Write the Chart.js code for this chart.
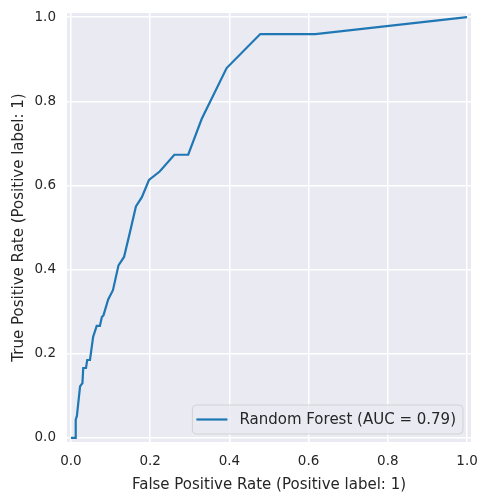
<!DOCTYPE html>
<html>
<head>
<meta charset="utf-8">
<script src="https://cdn.jsdelivr.net/npm/chart.js@4.4.1/dist/chart.umd.min.js"></script>
<style>
  body { margin: 0; background: #ffffff; }
  #roc { display: block; }
</style>
</head>
<body>
<canvas id="roc" width="480" height="495"></canvas>
<script>
// ROC curve values
const fpr = [0, 0.012, 0.012, 0.015, 0.023, 0.029, 0.031, 0.038, 0.041, 0.048,
  0.056, 0.065, 0.073, 0.078, 0.082, 0.094, 0.106, 0.120, 0.134, 0.149,
  0.164, 0.179, 0.197, 0.224, 0.261, 0.296, 0.330, 0.393, 0.478, 0.617, 1.0];
const tpr = [0, 0, 0.043, 0.052, 0.122, 0.130, 0.166, 0.166, 0.185, 0.185,
  0.240, 0.266, 0.266, 0.287, 0.291, 0.329, 0.351, 0.410, 0.430, 0.489,
  0.550, 0.572, 0.613, 0.633, 0.673, 0.673, 0.758, 0.879, 0.960, 0.960, 1.0];
const seriesLabel = 'Random Forest (AUC = 0.79)';
const tickValues = [0, 0.2, 0.4, 0.6, 0.8, 1.0];
const tickLabels = ['0.0', '0.2', '0.4', '0.6', '0.8', '1.0'];

const textColor = '#262626';
const fontFamily = '"DejaVu Sans", sans-serif';

const points = fpr.map((x, i) => ({ x: x, y: tpr[i] }));

// grey panel behind the plot (seaborn darkgrid)
const panelBg = {
  id: 'panelBg',
  beforeDraw(chart) {
    const { ctx, chartArea: a } = chart;
    ctx.save();
    ctx.fillStyle = '#EAEAF2';
    ctx.fillRect(a.left, a.top, a.right - a.left, a.bottom - a.top);
    ctx.restore();
  }
};

// legend box at the lower right, like matplotlib
const lowerRightLegend = {
  id: 'lowerRightLegend',
  afterDraw(chart) {
    const { ctx, chartArea: a } = chart;
    const ds = chart.data.datasets[0];
    ctx.save();
    ctx.font = '15px ' + fontFamily;
    const tw = ctx.measureText(ds.label).width;
    const h = 29;
    const w = 47 + tw + 7;
    const x = a.right - 8 - w;
    const y = a.bottom - 8 - h;
    ctx.beginPath();
    ctx.roundRect(x, y, w, h, 4);
    ctx.fillStyle = 'rgba(234,234,242,0.8)';
    ctx.fill();
    ctx.lineWidth = 1;
    ctx.strokeStyle = 'rgba(204,204,204,0.8)';
    ctx.stroke();
    ctx.beginPath();
    ctx.moveTo(x + 4, y + h / 2);
    ctx.lineTo(x + 35, y + h / 2);
    ctx.strokeStyle = ds.borderColor;
    ctx.lineWidth = ds.borderWidth;
    ctx.stroke();
    ctx.fillStyle = textColor;
    ctx.textBaseline = 'middle';
    ctx.fillText(ds.label, x + 47, y + h / 2 + 1);
    ctx.restore();
  }
};

const fixedTicks = scale => {
  scale.ticks = tickValues.map(v => ({ value: v }));
};

new Chart(document.getElementById('roc'), {
  type: 'scatter',
  data: {
    datasets: [{
      label: seriesLabel,
      data: points,
      showLine: true,
      borderColor: '#1f77b4',
      backgroundColor: '#1f77b4',
      borderWidth: 2.2,
      pointRadius: 0,
      tension: 0
    }]
  },
  options: {
    responsive: false,
    animation: false,
    layout: { padding: { top: 13, right: 9, left: 0, bottom: 0 } },
    plugins: {
      legend: { display: false },
      tooltip: { enabled: false }
    },
    scales: {
      x: {
        type: 'linear',
        min: -0.01,
        max: 1.01,
        afterBuildTicks: fixedTicks,
        afterFit(scale) {
          scale.height = 53;
          scale.paddingLeft = 0;
          scale.paddingRight = 0;
        },
        grid: { color: '#ffffff', lineWidth: 1.5, drawTicks: false },
        border: { display: false },
        ticks: {
          padding: 11,
          color: textColor,
          font: { family: fontFamily, size: 13.5 },
          callback: v => tickLabels[tickValues.indexOf(v)]
        },
        title: {
          display: true,
          text: 'False Positive Rate (Positive label: 1)',
          color: textColor,
          font: { family: fontFamily, size: 15 },
          padding: { top: 0, bottom: 1 }
        }
      },
      y: {
        type: 'linear',
        min: -0.01,
        max: 1.01,
        afterBuildTicks: fixedTicks,
        afterFit(scale) {
          scale.width = 67;
          scale.paddingTop = 0;
          scale.paddingBottom = 0;
        },
        grid: { color: '#ffffff', lineWidth: 1.5, drawTicks: false },
        border: { display: false },
        ticks: {
          padding: 11,
          color: textColor,
          font: { family: fontFamily, size: 13.5 },
          callback: v => tickLabels[tickValues.indexOf(v)]
        },
        title: {
          display: true,
          text: 'True Positive Rate (Positive label: 1)',
          color: textColor,
          font: { family: fontFamily, size: 15 },
          padding: { top: 10, bottom: 0 }
        }
      }
    }
  },
  plugins: [panelBg, lowerRightLegend]
});
</script>
</body>
</html>
